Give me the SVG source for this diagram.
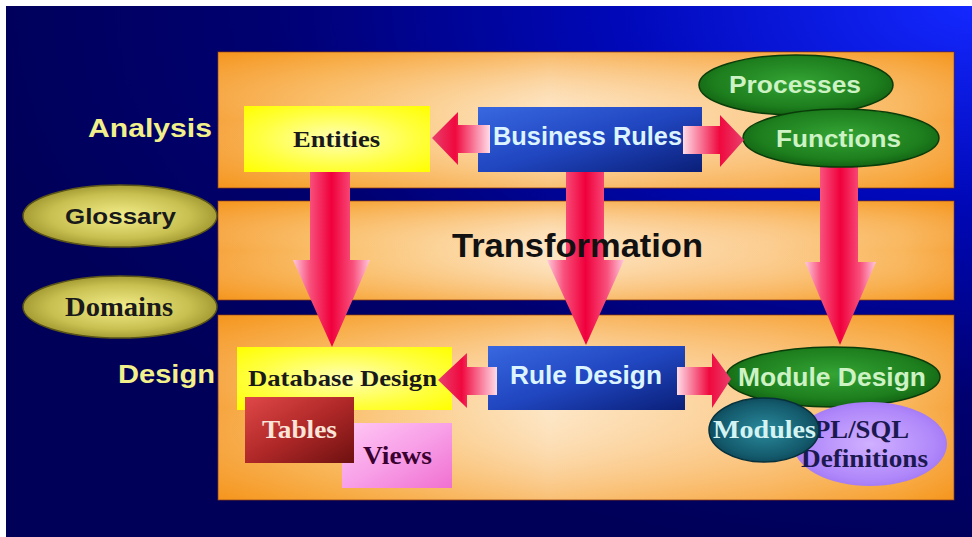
<svg xmlns="http://www.w3.org/2000/svg" width="972" height="537" viewBox="0 0 972 537">
  <defs>
    <radialGradient id="bgGrad" cx="1" cy="0" r="1.05">
      <stop offset="0" stop-color="#1428ff"/>
      <stop offset="0.35" stop-color="#0008b8"/>
      <stop offset="0.7" stop-color="#000070"/>
      <stop offset="1" stop-color="#000058"/>
    </radialGradient>
    <linearGradient id="bandGrad" x1="0" y1="0" x2="1" y2="0">
      <stop offset="0" stop-color="#f5951c"/>
      <stop offset="0.15" stop-color="#f9b450"/>
      <stop offset="0.45" stop-color="#fde2bc"/>
      <stop offset="0.75" stop-color="#fbc47c"/>
      <stop offset="0.93" stop-color="#f8aa40"/>
      <stop offset="1" stop-color="#f5951c"/>
    </linearGradient>
    <linearGradient id="bandShade" x1="0" y1="0" x2="0" y2="1">
      <stop offset="0" stop-color="#f5951c" stop-opacity="0.55"/>
      <stop offset="0.5" stop-color="#ffffff" stop-opacity="0.15"/>
      <stop offset="1" stop-color="#f5951c" stop-opacity="0.45"/>
    </linearGradient>
    <radialGradient id="yellowGrad" cx="0.5" cy="0.5" r="0.7">
      <stop offset="0" stop-color="#ffffb8"/>
      <stop offset="0.6" stop-color="#ffff40"/>
      <stop offset="1" stop-color="#ffff00"/>
    </radialGradient>
    <linearGradient id="blueBox" x1="0" y1="0" x2="1" y2="1">
      <stop offset="0" stop-color="#3868e0"/>
      <stop offset="0.5" stop-color="#2046c0"/>
      <stop offset="1" stop-color="#0a1f78"/>
    </linearGradient>
    <linearGradient id="tablesGrad" x1="0" y1="0" x2="1" y2="1">
      <stop offset="0" stop-color="#e04848"/>
      <stop offset="0.5" stop-color="#b02828"/>
      <stop offset="1" stop-color="#6e1010"/>
    </linearGradient>
    <linearGradient id="viewsGrad" x1="0" y1="0" x2="1" y2="1">
      <stop offset="0" stop-color="#ffc8f4"/>
      <stop offset="0.5" stop-color="#f8a0e8"/>
      <stop offset="1" stop-color="#f070d0"/>
    </linearGradient>
    <radialGradient id="greenGrad" cx="0.5" cy="0.45" r="0.6">
      <stop offset="0" stop-color="#34a434"/>
      <stop offset="0.7" stop-color="#1d7e1d"/>
      <stop offset="1" stop-color="#0f5a0f"/>
    </radialGradient>
    <radialGradient id="goldGrad" cx="0.5" cy="0.5" r="0.6">
      <stop offset="0" stop-color="#f4ee8c"/>
      <stop offset="0.6" stop-color="#c8c050"/>
      <stop offset="1" stop-color="#8c8420"/>
    </radialGradient>
    <radialGradient id="tealGrad" cx="0.5" cy="0.5" r="0.6">
      <stop offset="0" stop-color="#2a8a9c"/>
      <stop offset="0.7" stop-color="#135a6c"/>
      <stop offset="1" stop-color="#0a3a4a"/>
    </radialGradient>
    <radialGradient id="lilacGrad" cx="0.5" cy="0.5" r="0.6">
      <stop offset="0" stop-color="#d0b0ff"/>
      <stop offset="0.7" stop-color="#b088fa"/>
      <stop offset="1" stop-color="#9a6ef0"/>
    </radialGradient>
    <linearGradient id="downArrow" x1="0" y1="0" x2="1" y2="0">
      <stop offset="0" stop-color="#ffc8dc"/>
      <stop offset="0.22" stop-color="#f8507c"/>
      <stop offset="0.5" stop-color="#f0003c"/>
      <stop offset="0.78" stop-color="#f8507c"/>
      <stop offset="1" stop-color="#ffc8dc"/>
    </linearGradient>
    <linearGradient id="leftArrow" x1="0" y1="0" x2="1" y2="0">
      <stop offset="0" stop-color="#e8406c"/>
      <stop offset="0.4" stop-color="#f0083e"/>
      <stop offset="1" stop-color="#ffdce8"/>
    </linearGradient>
    <linearGradient id="rightArrow" x1="1" y1="0" x2="0" y2="0">
      <stop offset="0" stop-color="#e8406c"/>
      <stop offset="0.4" stop-color="#f0083e"/>
      <stop offset="1" stop-color="#ffdce8"/>
    </linearGradient>
  </defs>
  <style>
    .band { fill: url(#bandGrad); stroke: #6a2a20; stroke-width: 1; }
    .shade { fill: url(#bandShade); }
    .side { font-family: "Liberation Sans", Arial, sans-serif; font-weight: bold; fill: #f2f08a; }
    .sans { font-family: "Liberation Sans", Arial, sans-serif; font-weight: bold; }
    .serif { font-family: "Liberation Serif", "Times New Roman", serif; font-weight: bold; }
    .light { fill: #dcf4ff; }
    .leaf { fill: #cdf2c4; }
    .dark { fill: #1a1a1a; }
    .green { fill: url(#greenGrad); stroke: #0a3c0a; stroke-width: 1.5; }
    .gold { fill: url(#goldGrad); stroke: #5a5418; stroke-width: 1.5; }
  </style>

  <!-- backdrop -->
  <rect x="0" y="0" width="972" height="537" fill="#ffffff"/>
  <rect x="6" y="6" width="966" height="531" fill="url(#bgGrad)"/>

  <!-- three horizontal bands -->
  <g id="bands">
    <rect class="band" x="218" y="52" width="736" height="136"/>
    <rect class="shade" x="218" y="52" width="736" height="136"/>
    <rect class="band" x="218" y="201" width="736" height="99"/>
    <rect class="shade" x="218" y="201" width="736" height="99"/>
    <rect class="band" x="218" y="315" width="736" height="185"/>
    <rect class="shade" x="218" y="315" width="736" height="185"/>
  </g>

  <!-- side labels -->
  <g id="label-analysis"><text class="side" x="88" y="137" font-size="26" textLength="124" lengthAdjust="spacingAndGlyphs">Analysis</text></g>
  <g id="label-design"><text class="side" x="118" y="383" font-size="25" textLength="97" lengthAdjust="spacingAndGlyphs">Design</text></g>

  <g id="glossary">
    <ellipse class="gold" cx="120" cy="216" rx="97" ry="31"/>
    <text class="sans dark" x="65" y="224" font-size="22" textLength="111" lengthAdjust="spacingAndGlyphs">Glossary</text>
  </g>
  <g id="domains">
    <ellipse class="gold" cx="120" cy="307" rx="97" ry="31"/>
    <text class="serif dark" x="65" y="316" font-size="27" textLength="108" lengthAdjust="spacingAndGlyphs">Domains</text>
  </g>

  <!-- vertical flows from analysis to design -->
  <g id="connectors">
    <path d="M310,172 H350 V260 H370 L332,347 L293,260 H310 Z" fill="url(#downArrow)"/>
    <path d="M566,172 H604 V260 H624 L586,345 L547,260 H566 Z" fill="url(#downArrow)"/>
    <path d="M820,167 H858 V262 H876 L840,345 L805,262 H820 Z" fill="url(#downArrow)"/>
  </g>

  <g id="transformation">
    <text class="sans" x="452" y="257" font-size="34" fill="#111" textLength="251" lengthAdjust="spacingAndGlyphs">Transformation</text>
  </g>

  <!-- analysis row -->
  <g id="entities">
    <rect x="244" y="106" width="186" height="66" fill="url(#yellowGrad)"/>
    <text class="serif dark" x="293" y="147" font-size="23" textLength="87" lengthAdjust="spacingAndGlyphs">Entities</text>
  </g>
  <g id="business-rules">
    <rect x="478" y="107" width="224" height="65" fill="url(#blueBox)"/>
    <text class="sans light" x="493" y="145" font-size="25" textLength="189" lengthAdjust="spacingAndGlyphs">Business Rules</text>
  </g>
  <g id="processes">
    <ellipse class="green" cx="796" cy="85" rx="97" ry="30"/>
    <text class="sans leaf" x="729" y="93" font-size="23" textLength="132" lengthAdjust="spacingAndGlyphs">Processes</text>
  </g>
  <g id="functions">
    <ellipse class="green" cx="841" cy="138" rx="98" ry="29"/>
    <text class="sans leaf" x="776" y="147" font-size="23" textLength="125" lengthAdjust="spacingAndGlyphs">Functions</text>
  </g>

  <!-- design row -->
  <g id="database-design">
    <rect x="237" y="347" width="215" height="63" fill="url(#yellowGrad)"/>
    <text class="serif dark" x="248" y="386" font-size="23" textLength="189" lengthAdjust="spacingAndGlyphs">Database Design</text>
  </g>
  <g id="views">
    <rect x="342" y="423" width="110" height="65" fill="url(#viewsGrad)"/>
    <text class="serif" x="363" y="464" font-size="25" fill="#3a0030" textLength="69" lengthAdjust="spacingAndGlyphs">Views</text>
  </g>
  <g id="tables">
    <rect x="245" y="397" width="109" height="66" fill="url(#tablesGrad)"/>
    <text class="serif" x="262" y="438" font-size="25" fill="#fbe4d8" textLength="75" lengthAdjust="spacingAndGlyphs">Tables</text>
  </g>
  <g id="rule-design">
    <rect x="488" y="346" width="197" height="64" fill="url(#blueBox)"/>
    <text class="sans light" x="510" y="384" font-size="25" textLength="152" lengthAdjust="spacingAndGlyphs">Rule Design</text>
  </g>
  <g id="module-design">
    <ellipse class="green" cx="833" cy="377" rx="107" ry="30"/>
    <text class="sans leaf" x="738" y="386" font-size="25" textLength="188" lengthAdjust="spacingAndGlyphs">Module Design</text>
  </g>
  <g id="plsql-definitions">
    <ellipse cx="870" cy="444" rx="77" ry="42" fill="url(#lilacGrad)"/>
    <text class="serif" x="814" y="438" font-size="26" fill="#1c1850" textLength="95" lengthAdjust="spacingAndGlyphs">PL/SQL</text>
    <text class="serif" x="801" y="467" font-size="26" fill="#1c1850" textLength="127" lengthAdjust="spacingAndGlyphs">Definitions</text>
  </g>
  <g id="modules">
    <ellipse cx="764" cy="430" rx="55" ry="32" fill="url(#tealGrad)" stroke="#06303c" stroke-width="1.5"/>
    <text class="serif" x="713" y="438" font-size="26" fill="#d4f4f4" textLength="103" lengthAdjust="spacingAndGlyphs">Modules</text>
  </g>

  <!-- horizontal flows between the rule boxes and their neighbours -->
  <g id="side-connectors">
    <path d="M432,138 L458,112 V125 H490 V153 H458 V165 Z" fill="url(#leftArrow)"/>
    <path d="M744,140 L720,115 V126 H683 V154 H720 V167 Z" fill="url(#rightArrow)"/>
    <path d="M438,380 L467,353 V367 H497 V395 H467 V408 Z" fill="url(#leftArrow)"/>
    <path d="M731,379 L712,353 V367 H677 V395 H712 V408 Z" fill="url(#rightArrow)"/>
  </g>
</svg>
